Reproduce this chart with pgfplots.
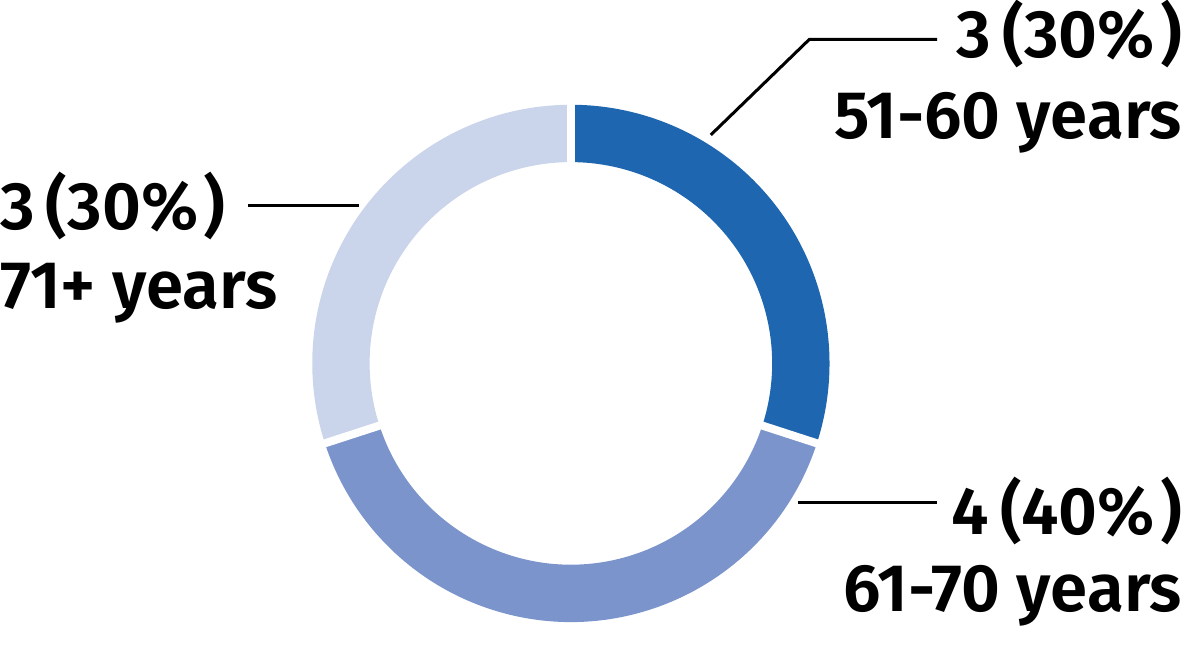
\documentclass[border=0pt]{standalone}
\usepackage{fontspec}
\setmainfont{Fira Sans}[UprightFont={* SemiBold}]
\usepackage{pgfplots}
\usepackage{pgfplotstable}
\pgfplotsset{compat=1.18}

\definecolor{segA}{HTML}{1F66B1}
\definecolor{segB}{HTML}{7B94CB}
\definecolor{segC}{HTML}{CAD4EB}

% age groups of the 10 people
\pgfplotstableread{
value
3
4
3
}\agedata

\begin{document}
\begin{tikzpicture}[font=\fontsize{19}{22}\selectfont]
\pgfplotstablegetelem{0}{value}\of\agedata\let\vA\pgfplotsretval
\pgfplotstablegetelem{1}{value}\of\agedata\let\vB\pgfplotsretval
\pgfplotstablegetelem{2}{value}\of\agedata\let\vC\pgfplotsretval
\pgfmathsetmacro{\tot}{\vA+\vB+\vC}
\pgfmathsetmacro{\angA}{90}
\pgfmathsetmacro{\angB}{\angA-360*\vA/\tot}
\pgfmathsetmacro{\angC}{\angB-360*\vB/\tot}
\pgfmathsetmacro{\angD}{\angC-360*\vC/\tot}
\def\cx{571}\def\cy{266}
\begin{axis}[hide axis, scale only axis,
    width=11.82cm, height=6.26cm,
    xmin=0, xmax=1182, ymin=0, ymax=626,
    clip=false]
  % ring segments
  \fill[segA] (axis cs:{\cx+257*cos(\angA)},{\cy+257*sin(\angA)})
      arc[start angle=\angA, end angle=\angB, radius=2.57cm]
      -- (axis cs:{\cx+200*cos(\angB)},{\cy+200*sin(\angB)})
      arc[start angle=\angB, end angle=\angA, radius=2cm] -- cycle;
  \fill[segB] (axis cs:{\cx+257*cos(\angB)},{\cy+257*sin(\angB)})
      arc[start angle=\angB, end angle=\angC, radius=2.57cm]
      -- (axis cs:{\cx+200*cos(\angC)},{\cy+200*sin(\angC)})
      arc[start angle=\angC, end angle=\angB, radius=2cm] -- cycle;
  \fill[segC] (axis cs:{\cx+257*cos(\angC)},{\cy+257*sin(\angC)})
      arc[start angle=\angC, end angle=\angD, radius=2.57cm]
      -- (axis cs:{\cx+200*cos(\angD)},{\cy+200*sin(\angD)})
      arc[start angle=\angD, end angle=\angC, radius=2cm] -- cycle;
  % white gaps
  \pgfplotsinvokeforeach{\angA,\angB,\angC}{
    \draw[white, line width=0.8mm]
      (axis cs:{\cx+190*cos(#1)},{\cy+190*sin(#1)}) --
      (axis cs:{\cx+267*cos(#1)},{\cy+267*sin(#1)});
  }
  % leaders
  \draw[black, line width=0.3mm] (axis cs:710,493) -- (axis cs:808,588) -- (axis cs:935,588);
  \draw[black, line width=0.3mm] (axis cs:250,423) -- (axis cs:360,423);
  \draw[black, line width=0.3mm] (axis cs:797,128) -- (axis cs:935,128);
  % labels
  \node[anchor=base east, inner sep=0pt] at (axis cs:1179,570) {3\,(30\%\kern0.08em)};
  \node[anchor=base east, inner sep=0pt] at (axis cs:1179,489) {51-60 years};
  \node[anchor=base east, inner sep=0pt] at (axis cs:1179,96) {4\,(40\%\kern0.08em)};
  \node[anchor=base east, inner sep=0pt] at (axis cs:1179,19) {61-70 years};
  \node[anchor=base west, inner sep=0pt] at (axis cs:3,399) {3\,(30\%\kern0.08em)};
  \node[anchor=base west, inner sep=0pt] at (axis cs:3,321) {71+ years};
\end{axis}
\end{tikzpicture}
\end{document}
